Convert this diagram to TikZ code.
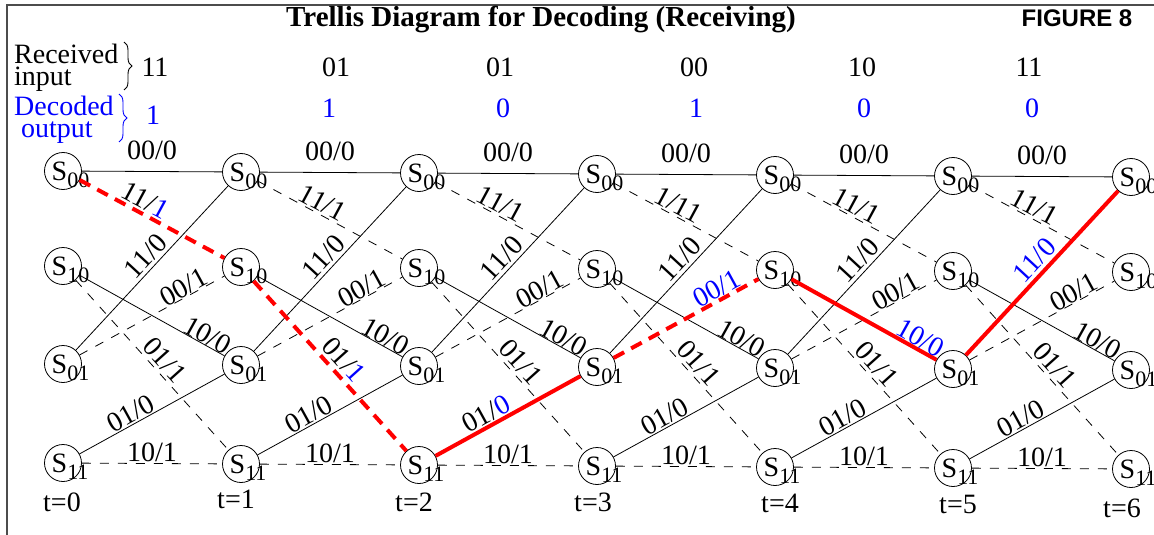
\documentclass[tikz,border=0pt]{standalone}
\usepackage{fontspec}
\setmainfont{Liberation Serif}
\setsansfont{Liberation Sans}
\usepackage{xcolor}
\usepackage{tikz}
\usetikzlibrary{decorations.pathreplacing}

\newcommand{\bigtext}{\fontsize{28}{22}\selectfont}
\newcommand{\sname}[1]{\hspace*{-7pt}S\rlap{\raisebox{-7pt}[0pt][0pt]{\fontsize{22}{22}\selectfont #1}}}

\begin{document}
\begin{tikzpicture}[
    x=1pt, y=-1pt,
    state/.style={circle, draw, line width=0.8pt, minimum size=37pt, inner sep=0pt, font=\bigtext},
    solidedge/.style={line width=0.8pt},
    dashedge/.style={line width=0.8pt, dash pattern=on 9pt off 9pt},
    redline/.style={red, line width=4pt},
    reddash/.style={redline, dash pattern=on 12pt off 8pt},
    lab/.style={sloped, anchor=south, font=\bigtext, text=black},
    txt/.style={font=\bigtext, inner sep=0pt}
]
\useasboundingbox (0,0) rectangle (1154,535);
\draw[line width=1.5pt, black!70] (7,535) -- (7,5) -- (1154,5);

\node[font=\fontsize{29}{29}\selectfont\bfseries] (title) at (541,19) {Trellis Diagram for Decoding (Receiving)};
\node[font=\fontsize{24}{24}\selectfont\sffamily\bfseries] (fig) at (1077,18) {FIGURE 8};

% received input / decoded output
\node[txt, anchor=west, align=left] (recv) at (14,68) {Received\\input};
\node[txt, anchor=west, align=left, blue] (dec) at (14,120) {Decoded\\\hspace{7pt}output};
\draw[line width=0.9pt, decorate, decoration={brace, amplitude=8pt}] (124,42) -- (124,90);
\draw[line width=0.9pt, blue, decorate, decoration={brace, amplitude=8pt}] (119,94) -- (119,142);

\foreach \xr/\rv/\xd/\dv/\yd [count=\i] in {155/11/153/1/115, 336/01/329/1/108, 500/01/503/0/108,
    694/00/696/1/108, 862/10/864/0/108, 1029/11/1032/0/108}{
  \node[txt] (r\i) at (\xr,67) {\rv};
  \node[txt, blue] (d\i) at (\xd,\yd) {\dv};
}

% states
\foreach \s/\y in {00/171, 10/266, 01/364, 11/463}
  \foreach \t in {0,...,6}
    \node[state] (S\s-\t) at ({63+178*\t},{\y+\t}) {\sname{\s}};

\foreach \x/\y [count=\i from 0] in {62/502, 236/499, 414/502, 593/502, 780/503, 958/504, 1122/508}
  \node[txt] (t\i) at (\x,\y) {t=\i};

% branches
\foreach \a/\b/\sty/\lbl/\p/\g/\red in {
    00/00/solidedge/{00/0}/.5/11/9,
    00/10/dashedge/{\ifnum\t=3 1/11\else 11/1\fi}/.41/2/0,
    10/01/solidedge/{10/0}/.85/0/4,
    10/11/dashedge/{01/1}/.52/3/1,
    01/00/solidedge/{11/0}/.52/3/5,
    01/10/dashedge/{00/1}/.75/0/3,
    11/01/solidedge/{01/0}/.39/1/2,
    11/11/dashedge/{10/1}/.5/1/9}
  \foreach \t [count=\n] in {0,...,5}{
    \ifnum\t=\red\relax\else
      \draw[\sty] (S\a-\t) -- node[lab, pos=\p, inner sep=\g pt] {\lbl} (S\b-\n);
    \fi}

% survivor path
\draw[reddash] (S00-0) -- node[lab, pos=.41, inner sep=2pt] {11/\textcolor{blue}{1}} (S10-1);
\draw[reddash] (S10-1) -- node[lab, pos=.52, inner sep=3pt] {01/\textcolor{blue}{1}} (S11-2);
\draw[redline] (S11-2) -- node[lab, pos=.39, inner sep=1pt] {01/\textcolor{blue}{0}} (S01-3);
\draw[reddash] (S01-3) -- node[lab, pos=.75, inner sep=0pt, text=blue] {00/1} (S10-4);
\draw[redline] (S10-4) -- node[lab, pos=.85, inner sep=0pt, text=blue] {10/0} (S01-5);
\draw[redline] (S01-5) -- node[lab, pos=.52, inner sep=3pt, text=blue] {11/0} (S00-6);

\end{tikzpicture}
\end{document}
